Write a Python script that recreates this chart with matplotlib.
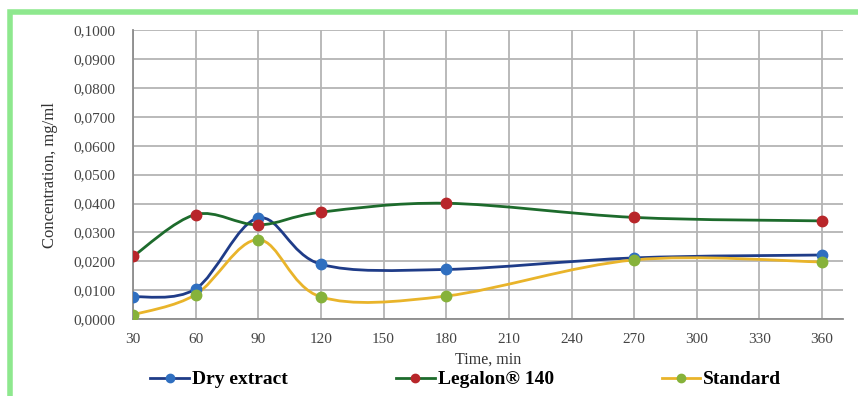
import numpy as np
import matplotlib
matplotlib.use("Agg")
import matplotlib.pyplot as plt
from matplotlib.path import Path
from matplotlib.patches import PathPatch, Rectangle
from matplotlib.lines import Line2D
from matplotlib.ticker import FuncFormatter

plt.rcParams['font.family'] = ['Liberation Serif', 'DejaVu Serif']

# data
time_min = [30, 60, 90, 120, 180, 270, 360]
dry_extract = [0.0077, 0.0105, 0.0350, 0.0190, 0.0172, 0.0212, 0.0222]
legalon = [0.0217, 0.0362, 0.0326, 0.0370, 0.0401, 0.0352, 0.0340]
standard = [0.0015, 0.0085, 0.0275, 0.0077, 0.0080, 0.0205, 0.0198]
x_ticks = [30, 60, 90, 120, 150, 180, 210, 240, 270, 300, 330, 360]
y_ticks = [0.0, 0.01, 0.02, 0.03, 0.04, 0.05, 0.06, 0.07, 0.08, 0.09, 0.1]


def smooth_path(x, y):
    # Excel-like smoothed line: cubic bezier segments through the points
    pts = np.column_stack([x, y]).astype(float)
    n = len(pts)
    verts = [pts[0]]
    codes = [Path.MOVETO]
    for i in range(n - 1):
        p0 = pts[i - 1] if i > 0 else pts[i]
        p1 = pts[i]
        p2 = pts[i + 1]
        p3 = pts[i + 2] if i + 2 < n else pts[i + 1]
        c1 = p1 + (p2 - p0) / 6.0
        c2 = p2 - (p3 - p1) / 6.0
        verts += [c1, c2, p2]
        codes += [Path.CURVE4] * 3
    return Path(verts, codes)


fig = plt.figure(figsize=(8.58, 3.96), dpi=100)
ax = fig.add_axes([0.155, 0.194, 0.8275, 0.730])

series = [
    ("Dry extract", dry_extract, '#1f3c88', '#2f6fc0'),
    ("Legalon\u00ae 140", legalon, '#1d6b2c', '#b8262a'),
    ("Standard", standard, '#e9b42a', '#86b23a'),
]

handles = []
for name, vals, lc, mc in series:
    ax.add_patch(PathPatch(smooth_path(time_min, vals), fill=False,
                           edgecolor=lc, lw=2.0, zorder=3))
    ax.plot(time_min, vals, ls='none', marker='o', ms=7.5,
            mfc=mc, mec=mc, zorder=4)
    handles.append(Line2D([], [], color=lc, lw=2.0, marker='o', ms=6,
                          mfc=mc, mec=mc))

ax.set_xlim(30, 370)
ax.set_ylim(0, 0.1)
ax.set_xticks(x_ticks)
ax.set_yticks(y_ticks)
ax.yaxis.set_major_formatter(FuncFormatter(lambda v, p: f"{v:.4f}".replace('.', ',')))
ax.grid(True, color='#b4b4b4', lw=1.3)
ax.set_axisbelow(True)
for s in ['top', 'right']:
    ax.spines[s].set_visible(False)
for s in ['left', 'bottom']:
    ax.spines[s].set_color('#8c8c8c')
    ax.spines[s].set_linewidth(1.3)
ax.tick_params(length=0, labelsize=11, colors='#444444')
ax.tick_params(axis='y', pad=13)
ax.tick_params(axis='x', pad=10)

ax.set_xlabel("Time, min", fontsize=11.5, color='#333333', labelpad=4)
ax.set_ylabel("Concentration, mg/ml", fontsize=12, color='#333333', labelpad=11)

fig.legend(handles, [s[0] for s in series], loc='lower center',
           bbox_to_anchor=(0.543, -0.025), ncol=3, frameon=False,
           prop={'weight': 'bold', 'size': 14}, columnspacing=5.55,
           handlelength=2.0, handletextpad=0.15)

# green frame (left and top edges visible)
fig.add_artist(Rectangle((0.0115, -0.1), 1.2, 1.069, transform=fig.transFigure,
                         fill=False, edgecolor='#8ee88e', lw=4))

fig.savefig("out.png", dpi=100)
